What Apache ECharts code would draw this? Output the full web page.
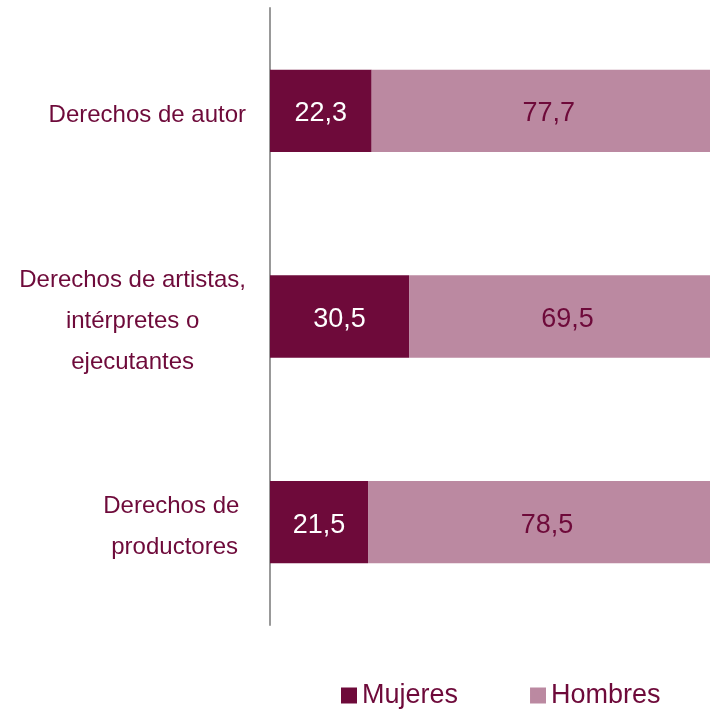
<!DOCTYPE html>
<html>
<head>
<meta charset="utf-8">
<style>
    html, body { margin: 0; padding: 0; background: #fff; }
    #chart { width: 710px; height: 709px; }
</style>
<script src="https://cdn.jsdelivr.net/npm/echarts@6/dist/echarts.min.js"></script>
</head>
<body>
<div id="chart"></div>
<script>
    // categorías, de arriba a abajo
    const categories = ['Derechos de autor', 'Derechos de artistas,\nintérpretes o\nejecutantes', 'Derechos de \nproductores'];
    const mujeres = [22.3, 30.5, 21.5];
    const hombres = [77.7, 69.5, 78.5];

    const wine = '#6E0A3A';
    const pink = '#BB89A1';
    const font = '"Liberation Sans", Arial, sans-serif';
    const fmt = p => p.value.toFixed(1).replace('.', ',');

    const chart = echarts.init(document.getElementById('chart'));
    chart.setOption({
        animation: false,
        textStyle: { fontFamily: font },
        legend: {
            data: ['Mujeres', 'Hombres'],
            left: 336,
            top: 677,
            itemWidth: 16,
            itemHeight: 16,
            itemGap: 72,
            icon: 'rect',
            textStyle: { fontSize: 27, color: wine, fontFamily: font }
        },
        grid: { left: 270, right: 0, top: 8, bottom: 84 },
        // el 100 queda un poco fuera del lienzo en el original
        xAxis: { type: 'value', min: 0, max: 96.5, show: false },
        yAxis: {
            type: 'category',
            inverse: true,
            data: categories,
            axisLine: { lineStyle: { color: '#999', width: 2 } },
            axisTick: { show: false },
            axisLabel: {
                margin: 24,
                align: 'right',
                padding: [9, 0, 0, 0],
                formatter: v => v.split('\n').map(l => '{c|' + l + '}').join('\n'),
                rich: {
                    c: { align: 'center', fontSize: 24, lineHeight: 41, color: wine, fontFamily: font }
                }
            }
        },
        series: [
            {
                name: 'Mujeres',
                type: 'bar',
                stack: 'total',
                barWidth: '40%',
                clip: false,
                data: mujeres,
                itemStyle: { color: wine },
                label: { show: true, position: 'inside', offset: [0, 3], formatter: fmt, fontSize: 27, color: '#fff', fontFamily: font }
            },
            {
                name: 'Hombres',
                type: 'bar',
                stack: 'total',
                clip: false,
                data: hombres,
                itemStyle: { color: pink },
                label: { show: true, position: 'inside', offset: [0, 3], formatter: fmt, fontSize: 27, color: wine, fontFamily: font }
            }
        ]
    });
</script>
</body>
</html>
